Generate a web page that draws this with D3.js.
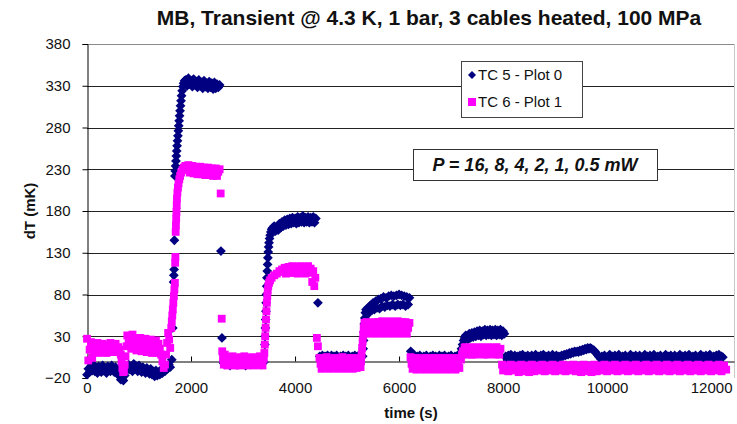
<!DOCTYPE html>
<html>
<head>
<meta charset="utf-8">
<script src="https://cdn.jsdelivr.net/npm/d3@7/dist/d3.min.js"></script>
<style>
  body { margin: 0; background: #fff; }
  svg text { font-family: "Liberation Sans", Arial, sans-serif; fill: #111; }
</style>
</head>
<body>
<svg id="chart" width="737" height="424"></svg>
<script>
// chart texts
const titleText = "MB, Transient @ 4.3 K, 1 bar, 3 cables heated, 100 MPa";
const xTitle = "time (s)";
const yTitle = "dT (mK)";
const seriesNames = ["TC 5 - Plot 0", "TC 6 - Plot 1"];
const powerNote = "P = 16, 8, 4, 2, 1, 0.5 mW";

// axis ticks
const xTicks = [0, 2000, 4000, 6000, 8000, 10000, 12000];
const yTicks = [-20, 30, 80, 130, 180, 230, 280, 330, 380];

// TC 5 (navy diamonds): [time s, dT mK]
const tc5Points = [
  // before heating
  [0,-16],[25,-9],[50,-13],[75,-6],[100,-11],[125,-4],[150,-12],[175,-8],[200,-14],[225,-6],
  [250,-10],[275,-13],[300,-5],[325,-11],[350,-8],[375,-14],[400,-6],[425,-10],[450,-12],[475,-5],
  [500,-9],[525,-13],[550,-7],[575,-12],[600,-15],[625,-18],[650,-22],[675,-20],[700,-23],[725,-17],
  [750,-12],[775,-8],[800,-4],[825,-10],[850,-6],[875,-12],[900,-3],[925,-9],[950,-6],[975,-12],
  [1000,-5],[1025,-10],[1050,-13],[1075,-7],[1100,-11],[1125,-14],[1150,-8],[1175,-12],[1200,-15],[1225,-9],
  [1250,-16],[1275,-12],[1300,-18],[1325,-11],[1350,-17],[1375,-13],[1400,-16],[1425,-10],[1450,-14],[1475,-8],
  [1500,-12],[1525,-6],[1550,-9],[1575,-4],[1600,-7],
  // 16 mW
  [1630,2],[1650,40],[1665,95],[1670,103],[1675,110],[1680,145],
  [1690,222],[1697,228],[1704,234],[1711,240],[1718,246],[1725,252],[1732,258],[1740,264],[1748,270],[1756,276],
  [1764,282],[1772,288],[1780,294],[1789,300],[1798,306],[1808,312],[1818,318],[1830,324],[1843,329],[1858,333],
  [1875,336],[1900,337],[1925,330],[1950,339],[1975,332],[2000,336],[2025,329],[2050,338],[2075,331],[2100,335],
  [2125,328],[2150,337],[2175,330],[2200,334],[2225,327],[2250,336],[2275,329],[2300,333],[2325,327],[2350,335],
  [2375,328],[2400,333],[2425,326],[2450,334],[2475,327],[2500,332],[2525,328],[2550,331],[2575,132],[2595,28],
  [2625,-2],[2650,-4],[2700,-1],[2750,-5],[2800,-3],[2850,-2],[2900,-4],[2950,-1],[3000,-3],[3050,-5],
  [3100,-2],[3150,-4],[3200,-1],[3250,-3],[3300,-2],[3350,-4],[3400,-1],
  // 8 mW
  [3420,20],[3425,30],[3430,40],[3435,50],[3440,60],[3445,70],[3450,80],[3455,90],[3460,100],[3466,108],
  [3472,116],[3478,124],[3485,131],[3492,137],[3500,142],[3510,147],[3522,151],[3535,155],[3550,158],[3570,160],
  [3600,162],[3625,156],[3650,161],[3675,157],[3700,165],[3725,160],[3750,167],[3775,162],[3800,169],[3825,163],
  [3850,170],[3875,164],[3900,171],[3925,165],[3950,172],[3975,166],[4000,171],[4025,165],[4050,173],[4075,166],
  [4100,172],[4125,167],[4150,174],[4175,166],[4200,172],[4225,167],[4250,173],[4275,166],[4300,172],[4325,167],
  [4350,173],[4375,166],[4400,171],[4440,70],
  [4475,6],[4500,3],[4525,7],[4550,4],[4575,6],[4600,3],[4625,7],[4650,5],[4675,3],[4700,7],
  [4725,4],[4750,6],[4775,3],[4800,7],[4825,5],[4850,3],[4875,6],[4900,4],[4925,7],[4950,3],
  [4975,6],[5000,4],[5025,7],[5050,5],[5075,3],[5100,6],[5125,4],[5150,7],[5175,3],[5200,6],
  [5225,4],[5250,7],[5275,5],[5300,6],
  // 4 mW
  [5310,15],[5318,25],[5326,35],[5334,45],[5342,52],[5352,58],[5365,62],
  [5375,60],[5400,64],[5425,58],[5450,67],[5475,61],[5500,70],[5525,62],[5550,72],[5575,64],[5600,74],
  [5625,63],[5650,75],[5675,66],[5700,77],[5725,65],[5750,76],[5775,67],[5800,78],[5825,66],[5850,79],
  [5875,68],[5900,78],[5925,66],[5950,79],[5975,68],[6000,80],[6025,67],[6050,79],[6075,68],[6100,78],
  [6125,66],[6150,77],[6175,68],[6200,76],[6225,12],
  [6250,6],[6275,3],[6300,7],[6325,4],[6350,6],[6375,3],[6400,7],[6425,5],[6450,3],[6475,6],
  [6500,4],[6525,7],[6550,5],[6575,3],[6600,6],[6625,4],[6650,7],[6675,3],[6700,6],[6725,5],
  [6750,3],[6775,7],[6800,4],[6825,6],[6850,3],[6875,7],[6900,5],[6925,4],[6950,6],[6975,3],
  [7000,7],[7025,5],[7050,3],[7075,6],[7100,4],[7125,7],[7150,5],
  // 2 mW
  [7180,10],[7200,15],[7220,20],[7240,25],[7260,28],[7280,31],
  [7300,30],[7325,26],[7350,33],[7375,28],[7400,34],[7425,29],[7450,35],[7475,30],[7500,36],[7525,31],
  [7550,37],[7575,30],[7600,36],[7625,32],[7650,38],[7675,31],[7700,37],[7725,32],[7750,38],[7775,31],
  [7800,37],[7825,32],[7850,38],[7875,31],[7900,37],[7925,32],[7950,38],[7975,31],[8000,36],[8025,33],
  // 1 mW, 0.5 mW
  [8050,6],[8075,3],[8100,7],[8125,4],[8150,8],[8175,5],[8200,3],[8225,7],[8250,4],[8275,6],
  [8300,3],[8325,7],[8350,5],[8375,8],[8400,4],[8425,6],[8450,3],[8475,7],[8500,5],[8525,4],
  [8550,7],[8575,3],[8600,6],[8625,8],[8650,4],[8675,6],[8700,3],[8725,7],[8750,5],[8775,8],
  [8800,4],[8825,6],[8850,3],[8875,7],[8900,5],[8925,4],[8950,8],[8975,5],[9000,3],[9025,7],
  [9050,4],[9075,6],[9100,5],[9125,7],[9150,6],[9175,8],[9200,7],[9225,9],[9250,8],[9275,10],
  [9300,9],[9325,11],[9350,10],[9375,12],[9400,11],[9425,12],[9450,11],[9475,13],[9500,12],[9525,14],
  [9550,13],[9575,15],[9600,14],[9625,16],[9650,15],[9675,16],[9700,15],[9725,14],[9750,13],[9775,11],
  [9800,9],[9825,7],[9850,5],[9875,3],[9900,6],[9925,4],[9950,7],[9975,5],[10000,3],[10025,6],
  [10050,8],[10075,4],[10100,6],[10125,3],[10150,7],[10175,5],[10200,4],[10225,8],[10250,5],[10275,3],
  [10300,6],[10325,4],[10350,7],[10375,5],[10400,3],[10425,6],[10450,8],[10475,4],[10500,6],[10525,3],
  [10550,7],[10575,5],[10600,4],[10625,7],[10650,5],[10675,3],[10700,6],[10725,8],[10750,4],[10775,6],
  [10800,3],[10825,7],[10850,5],[10875,4],[10900,8],[10925,5],[10950,3],[10975,6],[11000,4],[11025,7],
  [11050,5],[11075,3],[11100,6],[11125,8],[11150,4],[11175,6],[11200,3],[11225,7],[11250,5],[11275,4],
  [11300,7],[11325,5],[11350,3],[11375,6],[11400,8],[11425,4],[11450,6],[11475,3],[11500,7],[11525,5],
  [11550,4],[11575,8],[11600,5],[11625,3],[11650,6],[11675,4],[11700,7],[11725,5],[11750,3],[11775,6],
  [11800,8],[11825,4],[11850,6],[11875,3],[11900,7],[11925,5],[11950,4],[11975,8],[12000,5],[12025,3],
  [12050,6],[12075,4],[12100,7],[12125,5],[12150,8],[12175,4],[12200,6],[12225,5]
];

// TC 6 (magenta squares): [time s, dT mK]
const tc6Points = [
  // before heating
  [0,27],[25,1],[50,14],[75,23],[100,4],[125,11],[150,20],[175,13],[200,22],[225,10],
  [250,18],[275,12],[300,21],[325,11],[350,19],[375,10],[400,18],[425,13],[450,22],[475,11],
  [500,19],[525,13],[550,21],[575,11],[600,17],[625,14],[650,8],[665,0],[680,-8],[695,-13],
  [710,-12],[725,-4],[740,6],[760,18],[775,31],[800,22],[825,29],[850,15],[875,32],[900,22],
  [925,28],[950,13],[975,25],[1000,19],[1025,28],[1050,12],[1075,24],[1100,17],[1125,27],[1150,11],
  [1175,23],[1200,17],[1225,26],[1250,10],[1275,22],[1300,16],[1325,25],[1350,10],[1375,21],[1400,15],
  [1425,8],[1450,0],[1475,-8],[1500,-4],[1520,8],[1540,22],[1560,34],[1580,26],[1600,16],
  // 16 mW
  [1620,40],[1630,48],[1640,55],[1650,62],[1660,70],[1670,78],[1680,86],[1690,94],[1695,118],[1700,125],
  [1705,155],[1710,163],[1715,171],[1720,179],[1725,187],[1730,195],[1738,202],[1748,208],[1760,213],[1775,218],
  [1790,222],[1810,226],[1835,229],[1860,232],[1890,234],
  [1920,231],[1950,235],[1975,226],[2000,231],[2025,234],[2050,225],[2075,230],[2100,233],[2125,224],[2150,229],
  [2175,233],[2200,224],[2225,229],[2250,232],[2275,223],[2300,228],[2325,232],[2350,223],[2375,228],[2400,231],
  [2425,222],[2450,227],[2475,231],[2500,222],[2525,227],[2550,230],[2570,201],[2590,51],
  [2600,12],[2615,3],[2630,-4],[2650,8],[2675,1],[2700,-5],[2725,5],[2750,0],[2775,-4],[2800,6],
  [2825,1],[2850,-5],[2875,4],[2900,-1],[2925,-5],[2950,5],[2975,0],[3000,-4],[3025,6],[3050,1],
  [3075,-5],[3100,4],[3125,0],[3150,-4],[3175,5],[3200,1],[3225,-5],[3250,4],[3275,0],[3300,-4],
  [3325,6],[3350,1],[3375,-5],[3400,3],
  // 8 mW
  [3410,10],[3418,20],[3426,30],[3434,40],[3442,50],[3450,60],[3458,70],[3466,78],[3475,85],[3485,90],
  [3500,94],[3520,97],[3550,100],[3600,103],[3650,105],[3700,108],[3750,110],
  [3775,107],[3800,112],[3825,105],[3850,110],[3875,113],[3900,106],[3925,111],[3950,114],[3975,106],[4000,110],
  [4025,113],[4050,105],[4075,110],[4100,114],[4125,106],[4150,111],[4175,113],[4200,105],[4225,110],[4250,114],
  [4275,106],[4300,111],[4330,95],[4350,108],[4370,90],[4390,100],[4420,28],[4440,18],
  [4470,4],[4490,-3],[4510,-9],[4535,3],[4560,-2],[4585,-8],[4610,5],[4635,-3],[4660,-9],[4685,2],
  [4710,-2],[4735,-8],[4760,4],[4785,-3],[4810,-9],[4835,3],[4860,-2],[4885,-8],[4910,5],[4935,-3],
  [4960,-9],[4985,2],[5010,-2],[5035,-8],[5060,4],[5085,-3],[5110,-9],[5135,3],[5160,-2],[5185,-8],
  [5210,4],[5235,-3],[5260,-7],
  // 4 mW
  [5270,0],[5280,8],[5290,16],[5300,24],[5310,32],[5320,40],
  [5335,46],[5350,36],[5375,47],[5400,33],[5425,40],[5450,46],[5475,34],[5500,41],[5525,47],[5550,33],
  [5575,40],[5600,47],[5625,34],[5650,41],[5675,48],[5700,33],[5725,40],[5750,47],[5775,34],[5800,41],
  [5825,48],[5850,33],[5875,40],[5900,47],[5925,34],[5950,41],[5975,48],[6000,33],[6025,40],[6050,47],
  [6075,34],[6100,41],[6125,47],[6150,33],[6175,40],[6200,46],
  [6220,5],[6240,-3],[6260,-9],[6285,3],[6310,-2],[6335,-10],[6360,4],[6385,-3],[6410,-9],[6435,2],
  [6460,-3],[6485,-10],[6510,4],[6535,-2],[6560,-9],[6585,3],[6610,-3],[6635,-10],[6660,4],[6685,-2],
  [6710,-9],[6735,3],[6760,-3],[6785,-10],[6810,4],[6835,-2],[6860,-9],[6885,3],[6910,-3],[6935,-10],
  [6960,4],[6985,-2],[7010,-9],[7035,3],[7060,-3],[7085,-10],[7110,4],[7135,-2],[7160,-8],
  // 2 mW
  [7190,2],[7210,8],[7230,12],[7260,16],
  [7275,17],[7300,12],[7325,8],[7350,16],[7375,11],[7400,8],[7425,17],[7450,12],[7475,8],[7500,16],
  [7525,12],[7550,9],[7575,17],[7600,12],[7625,8],[7650,16],[7675,11],[7700,8],[7725,17],[7750,12],
  [7775,9],[7800,16],[7825,12],[7850,8],[7875,17],[7900,11],[7925,8],[7950,15],
  // 1 mW, 0.5 mW
  [7980,-4],[8000,-11],[8050,-5],[8100,-12],[8150,-4],[8200,-11],[8250,-5],[8300,-13],[8350,-4],[8400,-12],
  [8450,-5],[8500,-13],[8550,-4],[8600,-12],[8650,-5],[8700,-11],[8750,-4],[8800,-12],[8850,-5],[8900,-11],
  [8950,-4],[9000,-12],[9050,-5],[9100,-11],[9150,-4],[9200,-12],[9250,-5],[9300,-11],[9350,-4],[9400,-12],
  [9450,-5],[9500,-13],[9550,-4],[9600,-12],[9650,-5],[9700,-13],[9750,-4],[9800,-12],[9850,-5],[9900,-11],
  [9950,-4],[10000,-12],[10050,-5],[10100,-11],[10150,-4],[10200,-12],[10250,-5],[10300,-11],[10350,-4],[10400,-12],
  [10450,-5],[10500,-11],[10550,-4],[10600,-12],[10650,-5],[10700,-11],[10750,-4],[10800,-12],[10850,-5],[10900,-11],
  [10950,-4],[11000,-12],[11050,-5],[11100,-11],[11150,-4],[11200,-12],[11250,-5],[11300,-11],[11350,-4],[11400,-12],
  [11450,-5],[11500,-11],[11550,-4],[11600,-12],[11650,-5],[11700,-11],[11750,-4],[11800,-12],[11850,-5],[11900,-11],
  [11950,-4],[12000,-12],[12050,-5],[12100,-11],[12150,-4],[12200,-12],[12250,-5],[12290,-10]
];

const navy = "#000080", magenta = "#ff00ff";
const svg = d3.select("#chart");

const x = d3.scaleLinear().domain([0, 12440]).range([87, 734]);
const y = d3.scaleLinear().domain([-20, 380]).range([378, 44]);

// horizontal gridlines
svg.append("g")
  .selectAll("line")
  .data(yTicks.filter(d => d > 0))
  .enter().append("line")
  .attr("x1", x.range()[0])
  .attr("x2", x.range()[1])
  .attr("y1", d => Math.round(y(d)) + 0.5)
  .attr("y2", d => Math.round(y(d)) + 0.5)
  .attr("stroke", d => d === 380 ? "#8a8a8a" : "#222")
  .attr("stroke-width", 1);

// right border of plot area
svg.append("line")
  .attr("x1", x.range()[1] + 0.5).attr("x2", x.range()[1] + 0.5)
  .attr("y1", y(380)).attr("y2", y(-20))
  .attr("stroke", "#c8c8c8");

// y axis
const yAxis = svg.append("g")
  .attr("transform", "translate(" + (x.range()[0] + 0.5) + ",0)")
  .call(d3.axisLeft(y).tickValues(yTicks).tickSize(5).tickPadding(12));
yAxis.selectAll("text").attr("font-size", 15).attr("font-family", "Liberation Sans, Arial, sans-serif");

// x axis crosses at dT = 0, labels kept low
const xAxis = svg.append("g")
  .attr("transform", "translate(0," + (Math.round(y(0)) + 0.5) + ")")
  .call(d3.axisBottom(x).tickValues(xTicks).tickFormat(d3.format("d"))
    .tickSizeInner(-5).tickSizeOuter(0).tickPadding(21));
xAxis.selectAll("text").attr("font-size", 15).attr("font-family", "Liberation Sans, Arial, sans-serif");
svg.selectAll(".domain, .tick line").attr("stroke", "#000");

// TC 5 markers
const diamond = "M0,-4.9L4.9,0L0,4.9L-4.9,0Z";
svg.append("g")
  .selectAll("path")
  .data(tc5Points)
  .enter().append("path")
  .attr("d", diamond)
  .attr("transform", d => "translate(" + x(d[0]) + "," + y(d[1]) + ")")
  .attr("fill", navy);

// TC 6 markers
const sq = 7.8;
svg.append("g")
  .selectAll("rect")
  .data(tc6Points)
  .enter().append("rect")
  .attr("x", d => x(d[0]) - sq / 2)
  .attr("y", d => y(d[1]) - sq / 2)
  .attr("width", sq)
  .attr("height", sq)
  .attr("fill", magenta);

// title and axis titles
svg.append("text")
  .attr("x", 429).attr("y", 25)
  .attr("text-anchor", "middle")
  .attr("font-size", 21).attr("font-weight", "bold")
  .text(titleText);

svg.append("text")
  .attr("x", 411).attr("y", 418)
  .attr("text-anchor", "middle")
  .attr("font-size", 15).attr("font-weight", "bold")
  .text(xTitle);

svg.append("text")
  .attr("transform", "translate(35,211) rotate(-90)")
  .attr("text-anchor", "middle")
  .attr("font-size", 15).attr("font-weight", "bold")
  .text(yTitle);

// legend
const legend = svg.append("g");
legend.append("rect")
  .attr("x", 461.5).attr("y", 61.5).attr("width", 121).attr("height", 56)
  .attr("fill", "#fff").attr("stroke", "#444");
legend.append("path")
  .attr("d", "M0,-4L4,0L0,4L-4,0Z")
  .attr("transform", "translate(472,75)")
  .attr("fill", navy);
legend.append("rect")
  .attr("x", 468).attr("y", 98).attr("width", 8).attr("height", 8)
  .attr("fill", magenta);
legend.selectAll("text.name")
  .data(seriesNames)
  .enter().append("text")
  .attr("class", "name")
  .attr("x", 478)
  .attr("y", (d, i) => 80 + i * 27)
  .attr("font-size", 15)
  .text(d => d);

// power note box
svg.append("rect")
  .attr("x", 413.5).attr("y", 149.5).attr("width", 244).attr("height", 31)
  .attr("fill", "#fff").attr("stroke", "#333");
svg.append("text")
  .attr("x", 535).attr("y", 171)
  .attr("text-anchor", "middle")
  .attr("font-size", 18).attr("font-weight", "bold").attr("font-style", "italic")
  .text(powerNote);
</script>
</body>
</html>
